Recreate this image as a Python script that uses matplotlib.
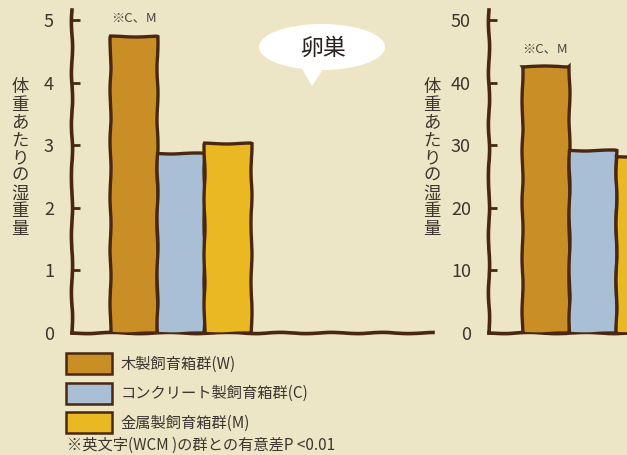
import numpy as np
import matplotlib.pyplot as plt
from matplotlib.patches import Patch, Ellipse, Polygon

plt.rcParams['font.family'] = ['Noto Sans CJK JP', 'DejaVu Sans']

groups = ['木製飼育箱群(W)', 'コンクリート製飼育箱群(C)', '金属製飼育箱群(M)']
colors = ['#c98f26', '#a8bfd6', '#eab822']
left_vals = [4.75, 2.88, 3.04]
right_vals = [42.6, 29.2, 28.3]
sig_note = '※C、M'
ylab = '体重あたりの湿重量'
title = '卵巣'
footnote = '※英文字(WCM )の群との有意差P <0.01'

bg = '#ede6c6'
ink = '#4a2710'
W, H = 627, 455

fig = plt.figure(figsize=(6.27, 4.55), dpi=100, facecolor=bg)

def px(x0, y0, w, h):
    return [x0 / W, 1 - (y0 + h) / H, w / W, h / H]

def panel(rect, vals, ymax, ticks, xoff, wd):
    ax = fig.add_axes(rect)
    ax.set_facecolor('none')
    x = np.arange(len(vals))
    bars = ax.bar(x, vals, width=1.0, color=colors, edgecolor=ink, linewidth=2.4, zorder=3)
    for b in bars:
        b.set_sketch_params(0.5, 60, 2)
    ax.set_ylim(0, ymax)
    ax.set_xlim(-xoff, -xoff + wd)
    ax.set_yticks(ticks)
    ax.set_xticks([])
    for s in ['top', 'right']:
        ax.spines[s].set_visible(False)
    for s in ['left', 'bottom']:
        ax.spines[s].set_color(ink)
        ax.spines[s].set_linewidth(2.6)
        ax.spines[s].set_sketch_params(0.6, 60, 2)
    ax.tick_params(axis='y', direction='in', length=6, width=2, color=ink,
                   labelsize=13, labelcolor='#3d3530', pad=13)
    ax.text(0, vals[0] + ymax * 0.035, sig_note, ha='center', va='bottom',
            fontsize=9.5, color='#4a4040')
    return ax

# left panel: axis at x=72, zero at y=333
unit = 47.0
axL = panel(px(72, 10, 361, 323), left_vals, 5.16, range(6), 61.5 / unit, 361 / unit)
axR = panel(px(489, 10, 361, 323), right_vals, 51.6, range(0, 51, 10), 56 / unit, 361 / unit)

for xc in (20, 432):
    fig.text(xc / W, 1 - 158 / H, '\n'.join(ylab), ha='center', va='center',
             fontsize=12.5, color='#3d3530', linespacing=0.98)

# speech bubble
fig.patches.append(Ellipse((322 / W, 1 - 47 / H), 126 / W, 46 / H,
                           transform=fig.transFigure, facecolor='white',
                           edgecolor='none', zorder=1))
fig.patches.append(Polygon([(298 / W, 1 - 62 / H), (325 / W, 1 - 66 / H), (312 / W, 1 - 86 / H)],
                           closed=True, transform=fig.transFigure,
                           facecolor='white', edgecolor='none', zorder=1))
fig.text(323 / W, 1 - 48 / H, title, ha='center', va='center', fontsize=16.5, color='#2a2020')

handles = [Patch(facecolor=c, edgecolor=ink, linewidth=1.8) for c in colors]
fig.legend(handles, groups, loc='upper left', bbox_to_anchor=(66 / W, 1 - 353 / H),
           frameon=False, fontsize=11, handlelength=3.0, handleheight=1.75,
           handletextpad=0.55, labelspacing=0.55, borderpad=0, borderaxespad=0,
           labelcolor='#3d3530')
fig.text(67 / W, 1 - 445 / H, footnote, ha='left', va='center', fontsize=11, color='#3d3530')

fig.savefig('out.png', dpi=100, facecolor=bg)
